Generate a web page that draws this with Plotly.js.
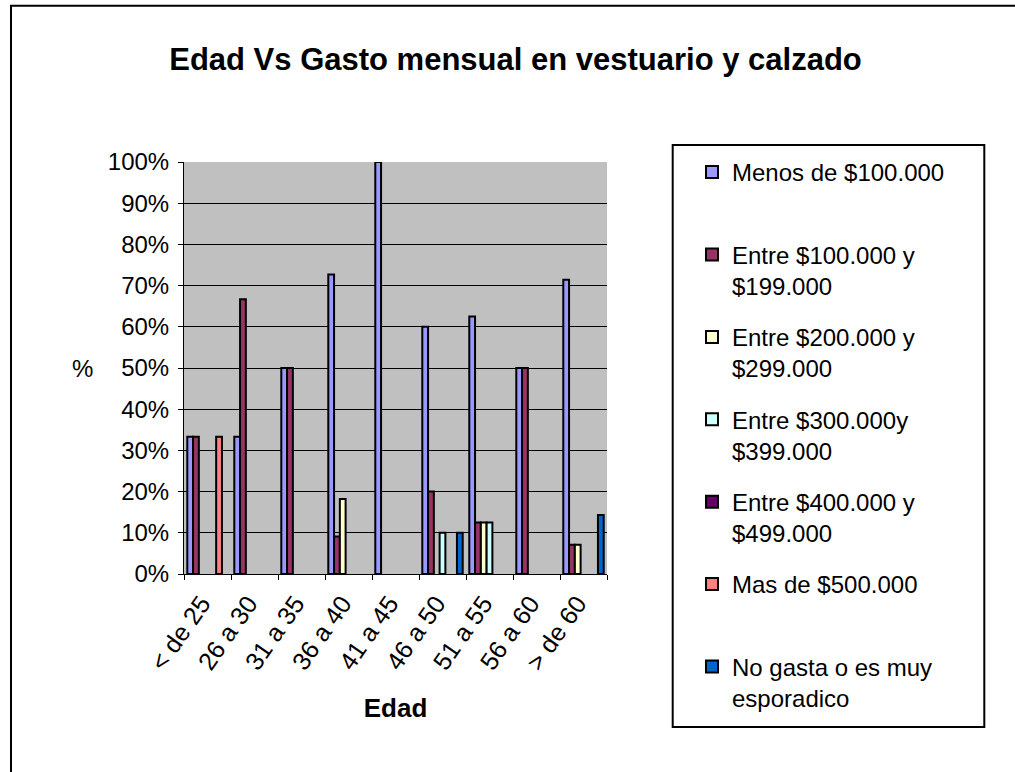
<!DOCTYPE html>
<html>
<head>
<meta charset="utf-8">
<script src="https://cdn.plot.ly/plotly-3.0.1.min.js"></script>
<style>
html,body{margin:0;padding:0;background:#fff;overflow:hidden;}
#chart{width:1015px;height:772px;}
</style>
</head>
<body>
<div id="chart"></div>
<script>
const categories = ["< de 25", "26 a 30", "31 a 35", "36 a 40", "41 a 45", "46 a 50", "51 a 55", "56 a 60", "> de 60"];
const seriesNames = [
  "Menos de $100.000<br> ",
  "Entre $100.000 y<br>$199.000",
  "Entre $200.000 y<br>$299.000",
  "Entre $300.000y<br>$399.000",
  "Entre $400.000 y<br>$499.000",
  "Mas de $500.000<br> ",
  "No gasta o es muy<br>esporadico"
];
const menos100 = [0.333, 0.333, 0.5, 0.727, 1.0, 0.6, 0.625, 0.5, 0.714];
const entre100 = [0.333, 0.667, 0.5, 0.091, 0, 0.2, 0.125, 0.5, 0.071];
const entre200 = [0, 0, 0, 0.182, 0, 0, 0.125, 0, 0.071];
const entre300 = [0, 0, 0, 0, 0, 0.1, 0.125, 0, 0];
const entre400 = [0, 0, 0, 0, 0, 0, 0, 0, 0];
const mas500   = [0.333, 0, 0, 0, 0, 0, 0, 0, 0];
const noGasta  = [0, 0, 0, 0, 0, 0.1, 0, 0, 0.143];
const seriesValues = [menos100, entre100, entre200, entre300, entre400, mas500, noGasta];
const seriesColors = ["#9999FF", "#993366", "#FFFFCC", "#CCFFFF", "#660066", "#FF8080", "#0066CC"];

const FONT = '"Liberation Sans", Arial, sans-serif';

// zero-valued bars are not drawn (as in the original), so pass them as gaps
const traces = seriesValues.map((vals, i) => ({
  type: 'bar',
  x: categories,
  y: vals.map(v => (v === 0 ? null : v)),
  name: seriesNames[i],
  legendgroup: 'g' + i,
  marker: {color: seriesColors[i], line: {color: '#000', width: 2}},
  hoverinfo: 'x+y+name'
}));

// pixel helpers for plot area (x 184-607, y 162-574)
const L = 184, R = 607, T = 162, B = 574;
const px = v => (v - L) / (R - L);
const py = v => (B - v) / (B - T);

const layout = {
  width: 1015, height: 772,
  margin: {l: L, r: 1015 - R, t: T, b: 772 - B, autoexpand: false},
  paper_bgcolor: '#fff',
  plot_bgcolor: '#C0C0C0',
  font: {family: FONT, size: 24, color: '#000'},
  title: {
    text: 'Edad Vs Gasto mensual en vestuario y calzado',
    font: {family: FONT, size: 31, weight: 'bold', color: '#000'},
    xref: 'container', x: 515.5 / 1015, xanchor: 'center',
    yref: 'container', y: 1 - 59 / 772, yanchor: 'middle'
  },
  barmode: 'group',
  bargap: 0.14,
  bargroupgap: 0,
  showlegend: true,
  legend: {
    x: px(692), y: py(150), xanchor: 'left', yanchor: 'top',
    bgcolor: 'rgba(0,0,0,0)', borderwidth: 0,
    font: {family: FONT, size: 24, color: '#000'},
    traceorder: 'grouped', tracegroupgap: 17, valign: 'top',
    maxheight: 700
  },
  xaxis: {
    type: 'category',
    tickangle: -55,
    ticks: 'outside', ticklen: 5, tickcolor: '#000', tickwidth: 1,
    tickson: 'boundaries',
    ticklabelshift: -6, ticklabelstandoff: 4,
    showline: true, linecolor: '#000', linewidth: 1,
    showgrid: false,
    tickfont: {family: FONT, size: 25, color: '#000'},
    title: {text: 'Edad', font: {family: FONT, size: 26, weight: 'bold', color: '#000'}, standoff: 24},
    automargin: false
  },
  yaxis: {
    range: [0, 1], dtick: 0.1, tickformat: '.0%',
    ticks: 'outside', ticklen: 5, tickcolor: '#000', tickwidth: 1,
    ticklabelstandoff: 4,
    showline: true, linecolor: '#000', linewidth: 1,
    showgrid: true, gridcolor: '#000', gridwidth: 1,
    zeroline: false,
    tickfont: {family: FONT, size: 24, color: '#000'},
    automargin: false
  },
  annotations: [{
    text: '%', xref: 'paper', yref: 'paper', x: px(82.5), y: py(368),
    xanchor: 'center', yanchor: 'middle', showarrow: false,
    font: {family: FONT, size: 24, color: '#000'}
  }],
  shapes: [
    {type: 'rect', xref: 'paper', yref: 'paper', x0: px(672.7), x1: px(984.3), y0: py(727), y1: py(145),
     line: {color: '#000', width: 2}, fillcolor: 'rgba(0,0,0,0)', layer: 'below'},
    {type: 'rect', xref: 'paper', yref: 'paper', x0: px(11), x1: px(1040), y0: py(800), y1: py(5.7),
     line: {color: '#000', width: 2}, fillcolor: 'rgba(0,0,0,0)', layer: 'below'}
  ]
};

Plotly.newPlot('chart', traces, layout, {displayModeBar: false, staticPlot: true});
</script>
</body>
</html>
